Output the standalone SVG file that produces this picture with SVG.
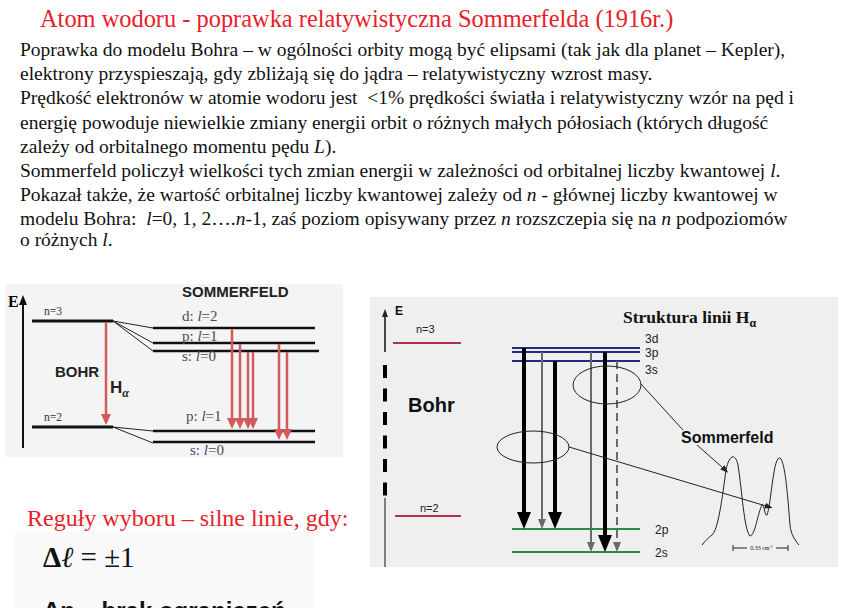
<svg xmlns="http://www.w3.org/2000/svg" width="850" height="608" viewBox="0 0 850 608">
<defs>
<style>
.title{font-family:"Liberation Serif",serif;font-size:24.4px;fill:#e8202a}
.body{font-family:"Liberation Serif",serif;font-size:19.5px;fill:#111}
.lvl{font-family:"Liberation Serif",serif;font-size:15px;fill:#4a4a60}
.lvs{font-family:"Liberation Serif",serif;font-size:11.5px;fill:#333}
.sans{font-family:"Liberation Sans",Arial,sans-serif}
.bk{stroke:#111;fill:none}
.red{stroke:#d05a5c;stroke-width:2.5;fill:none}
.thin{stroke:#222;stroke-width:1;fill:none}
.blue{stroke:#1f2a80;stroke-width:2}
.green{stroke:#2e8b47;stroke-width:2}
.thick{stroke:#000;stroke-width:4}
.gray{stroke:#6a6a6a;stroke-width:2}
</style>
<marker id="mRed" markerUnits="userSpaceOnUse" markerWidth="12" markerHeight="12" refX="1" refY="5" orient="auto"><path d="M0,0 L11,5 L0,10 z" fill="#d05a5c"/></marker>
<marker id="mBk" markerUnits="userSpaceOnUse" markerWidth="12" markerHeight="10" refX="1" refY="4" orient="auto"><path d="M0,0 L10,4 L0,8 z" fill="#111"/></marker>
<marker id="mBig" markerUnits="userSpaceOnUse" markerWidth="20" markerHeight="16" refX="1" refY="7" orient="auto"><path d="M0,0 L17,7 L0,14 z" fill="#000"/></marker>
<marker id="mGray" markerUnits="userSpaceOnUse" markerWidth="12" markerHeight="10" refX="1" refY="4" orient="auto"><path d="M0,0 L10,4 L0,8 z" fill="#6a6a6a"/></marker>
<marker id="mSm" markerUnits="userSpaceOnUse" markerWidth="10" markerHeight="8" refX="1" refY="3" orient="auto"><path d="M0,0 L8,3 L0,6 z" fill="#222"/></marker>
</defs>
<rect width="850" height="608" fill="#fff"/>

<g id="title"><text class="title" x="40" y="27">Atom wodoru - poprawka relatywistyczna Sommerfelda (1916r.)</text></g>

<g id="body-text" class="body">
<text x="20" y="56">Poprawka do modelu Bohra – w ogólności orbity mogą być elipsami (tak jak dla planet – Kepler),</text>
<text x="20" y="80">elektrony przyspieszają, gdy zbliżają się do jądra – relatywistyczny wzrost masy.</text>
<text x="20" y="104" xml:space="preserve">Prędkość elektronów w atomie wodoru jest  &lt;1% prędkości światła i relatywistyczny wzór na pęd i</text>
<text x="20" y="129">energię powoduje niewielkie zmiany energii orbit o różnych małych półosiach (których długość</text>
<text x="20" y="153">zależy od orbitalnego momentu pędu <tspan font-style="italic">L</tspan>).</text>
<text x="20" y="177">Sommerfeld policzył wielkości tych zmian energii w zależności od orbitalnej liczby kwantowej <tspan font-style="italic">l</tspan>.</text>
<text x="20" y="201">Pokazał także, że wartość orbitalnej liczby kwantowej zależy od <tspan font-style="italic">n</tspan> - głównej liczby kwantowej w</text>
<text x="20" y="225" xml:space="preserve">modelu Bohra:  <tspan font-style="italic">l</tspan>=0, 1, 2….<tspan font-style="italic">n</tspan>-1, zaś poziom opisywany przez <tspan font-style="italic">n</tspan> rozszczepia się na <tspan font-style="italic">n</tspan> podpoziomów</text>
<text x="20" y="246">o różnych <tspan font-style="italic">l</tspan>.</text>
</g>

<!-- Left diagram -->
<g id="left-diagram">
<rect x="5" y="284" width="338" height="173" fill="#f4f4f4"/>
<g id="left-connectors">
<line class="bk" x1="23" y1="448" x2="23" y2="304" stroke-width="2" marker-end="url(#mBk)"/>
<line class="bk" x1="32" y1="321" x2="113" y2="321" stroke-width="3"/>
<line class="bk" x1="32" y1="427" x2="113" y2="427" stroke-width="3"/>
<line class="thin" x1="113" y1="321" x2="153" y2="328"/>
<line class="thin" x1="113" y1="321" x2="153" y2="343"/>
<line class="thin" x1="113" y1="321" x2="153" y2="351"/>
<line class="thin" x1="113" y1="427" x2="153" y2="431"/>
<line class="thin" x1="113" y1="427" x2="153" y2="443"/>
<line class="bk" x1="153" y1="328" x2="315" y2="328" stroke-width="2.5"/>
<line class="bk" x1="153" y1="343" x2="315" y2="343" stroke-width="2.5"/>
<line class="bk" x1="153" y1="351" x2="319" y2="351" stroke-width="2.5"/>
<line class="bk" x1="153" y1="431" x2="315" y2="431" stroke-width="2.5"/>
<line class="bk" x1="153" y1="442" x2="315" y2="442" stroke-width="2.5"/>
<line class="red" x1="106" y1="322" x2="106" y2="415" marker-end="url(#mRed)"/>
<line class="red" x1="232" y1="329" x2="232" y2="419" marker-end="url(#mRed)"/>
<line class="red" x1="240" y1="344" x2="240" y2="419" marker-end="url(#mRed)"/>
<line class="red" x1="248" y1="352" x2="248" y2="419" marker-end="url(#mRed)"/>
<line class="red" x1="253" y1="352" x2="253" y2="419" marker-end="url(#mRed)"/>
<line class="red" x1="279" y1="344" x2="279" y2="430" marker-end="url(#mRed)"/>
<line class="red" x1="287" y1="352" x2="287" y2="430" marker-end="url(#mRed)"/>
</g>
<text x="8" y="307" font-family="Liberation Serif,serif" font-weight="bold" font-size="16">E</text>
<text class="lvs" x="44" y="315">n=3</text>
<text class="lvs" x="44" y="421">n=2</text>
<text class="sans" x="55" y="377" font-weight="bold" font-size="15" fill="#222">BOHR</text>
<text class="sans" x="110" y="393" font-weight="bold" font-size="17" fill="#222">H<tspan font-family="Liberation Serif,serif" font-style="italic" font-size="12" dy="4">α</tspan></text>
<text class="sans" x="182" y="297" font-weight="bold" font-size="15" fill="#222">SOMMERFELD</text>
<text class="lvl" x="182" y="321">d: <tspan font-style="italic">l</tspan>=2</text>
<text class="lvl" x="182" y="341">p: <tspan font-style="italic">l</tspan>=1</text>
<text class="lvl" x="182" y="361">s: <tspan font-style="italic">l</tspan>=0</text>
<text class="lvl" x="186" y="421">p: <tspan font-style="italic">l</tspan>=1</text>
<text class="lvl" x="190" y="455">s: <tspan font-style="italic">l</tspan>=0</text>
</g>

<!-- Right diagram -->
<g id="right-diagram">
<rect x="370" y="297" width="468" height="270" fill="#efefef"/>
<g id="right-connectors">
<line class="bk" x1="385" y1="352" x2="385" y2="316" stroke-width="1.5" marker-end="url(#mSm)"/>
<line x1="385" y1="365" x2="385" y2="498" stroke="#000" stroke-width="4" stroke-dasharray="13 10.5"/>
<line x1="385" y1="498" x2="385" y2="567" stroke="#333" stroke-width="1.2"/>
<line x1="393" y1="343" x2="461" y2="343" stroke="#b0304a" stroke-width="2"/>
<line x1="395" y1="516" x2="461" y2="516" stroke="#b0304a" stroke-width="2"/>
<line class="blue" x1="512" y1="348" x2="640" y2="348"/>
<line class="blue" x1="512" y1="352" x2="640" y2="352"/>
<line class="blue" x1="512" y1="361" x2="640" y2="361"/>
<line class="green" x1="512" y1="529" x2="640" y2="529"/>
<line class="green" x1="512" y1="552" x2="640" y2="552"/>
<line class="thick" x1="524" y1="348" x2="524" y2="513" marker-end="url(#mBig)"/>
<line class="thick" x1="555" y1="361" x2="555" y2="513" marker-end="url(#mBig)"/>
<line class="thick" x1="605" y1="352" x2="605" y2="536" marker-end="url(#mBig)"/>
<line class="gray" x1="542" y1="352" x2="542" y2="520" marker-end="url(#mGray)"/>
<line class="gray" x1="591" y1="352" x2="591" y2="543" marker-end="url(#mGray)"/>
<line class="gray" x1="617" y1="361" x2="617" y2="543" stroke-dasharray="8 5" marker-end="url(#mGray)"/>
<ellipse class="thin" cx="607" cy="385" rx="34" ry="19"/>
<ellipse class="thin" cx="533" cy="447" rx="36" ry="16"/>
<line class="thin" x1="641" y1="384" x2="683" y2="430"/>
<line class="thin" x1="697" y1="445" x2="723" y2="468" marker-end="url(#mSm)"/>
<line class="thin" x1="569" y1="447" x2="766" y2="506" marker-end="url(#mSm)"/>
<path class="thin" d="M702,545 C706,540 708,538 712,535 C718,530 722,500 726,470 C729,455 735,452 738,465 C742,490 744,530 750,536 C755,536 758,512 762,505 C764,503 765,518 767,515 C771,505 773,460 779,458 C785,456 788,500 790,525 C791,535 795,540 799,545"/>
<line class="thin" x1="733" y1="548" x2="747" y2="548" stroke-width="0.8"/>
<line class="thin" x1="776" y1="548" x2="788" y2="548" stroke-width="0.8"/>
<line class="thin" x1="733" y1="545" x2="733" y2="551" stroke-width="0.8"/>
<line class="thin" x1="788" y1="545" x2="788" y2="551" stroke-width="0.8"/>
</g>
<text x="761.5" y="550" font-family="Liberation Serif,serif" font-size="6" text-anchor="middle" fill="#222">0.33 cm<tspan font-size="4" dy="-2">-1</tspan></text>
<text class="sans" x="395" y="315" font-weight="bold" font-size="12" fill="#111">E</text>
<text class="sans" x="416" y="333" font-size="11" fill="#222">n=3</text>
<text class="sans" x="420" y="512" font-size="11" fill="#222">n=2</text>
<text class="sans" x="408" y="412" font-weight="bold" font-size="20" fill="#111">Bohr</text>
<text x="623" y="323" font-family="Liberation Serif,serif" font-weight="bold" font-size="17.5" fill="#111">Struktura linii H<tspan font-size="12" dy="4">α</tspan></text>
<text class="sans" x="645" y="343" font-size="12" fill="#222">3d</text>
<text class="sans" x="645" y="357" font-size="12" fill="#222">3p</text>
<text class="sans" x="645" y="374" font-size="12" fill="#222">3s</text>
<text class="sans" x="655" y="534" font-size="12" fill="#222">2p</text>
<text class="sans" x="655" y="557" font-size="12" fill="#222">2s</text>
<text class="sans" x="681" y="443" font-weight="bold" font-size="16" fill="#111">Sommerfeld</text>
</g>

<g id="selection-rules">
<rect x="15" y="532" width="300" height="76" fill="#f9f9f9"/>
<text x="27" y="526" font-family="Liberation Serif,serif" font-size="24" fill="#e8202a">Reguły wyboru – silne linie, gdy:</text>
<text x="43" y="567" font-family="Liberation Serif,serif" font-size="29" fill="#111"><tspan font-weight="bold">Δ</tspan><tspan font-style="italic">ℓ</tspan> = ±1</text>
<text x="43" y="619" font-family="Liberation Sans,sans-serif" font-weight="bold" font-size="24" fill="#111">Δn – brak ograniczeń</text>
</g>
</svg>
